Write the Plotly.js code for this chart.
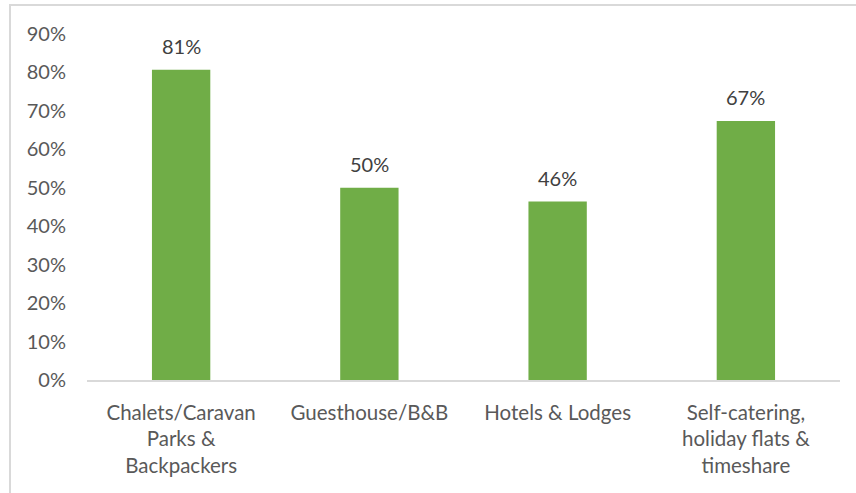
<!DOCTYPE html>
<html>
<head>
<meta charset="utf-8">
<script src="https://cdn.plot.ly/plotly-3.0.1.min.js"></script>
<style>
  html, body { margin: 0; padding: 0; background: #fff; }
  #wrap { position: relative; width: 856px; height: 493px; overflow: hidden; }
  #frame { position: absolute; left: 9px; top: 4px; width: 900px; height: 600px; border: 2px solid #d9d9d9; box-sizing: border-box; }
  #chart { position: absolute; left: 0; top: 0; width: 856px; height: 493px; }
</style>
</head>
<body>
<div id="wrap">
  <div id="frame"></div>
  <div id="chart"></div>
</div>
<script>
const categories = [
  "Chalets/Caravan<br>Parks &<br>Backpackers",
  "Guesthouse/B&B",
  "Hotels & Lodges",
  "Self-catering,<br>holiday flats &<br>timeshare"
];
const shares = [0.807, 0.500, 0.464, 0.674];
const tickValues = [0, 0.1, 0.2, 0.3, 0.4, 0.5, 0.6, 0.7, 0.8, 0.9];
const tickLabels = ["0%", "10%", "20%", "30%", "40%", "50%", "60%", "70%", "80%", "90%"];
const valueLabels = ["81%", "50%", "46%", "67%"];

const font = "Lato, 'Open Sans', sans-serif";

const trace = {
  type: "bar",
  x: categories,
  y: shares,
  marker: { color: "#70ad47" },
  hoverinfo: "skip"
};

const annotations = categories.map((c, i) => ({
  x: c, y: shares[i], xref: "x", yref: "y",
  text: valueLabels[i], showarrow: false,
  yanchor: "bottom", yshift: 10,
  font: { family: font, size: 20, color: "#404040" }
}));

const layout = {
  width: 856, height: 493,
  margin: { l: 87, r: 16, t: 34, b: 113 },
  paper_bgcolor: "rgba(0,0,0,0)",
  plot_bgcolor: "rgba(0,0,0,0)",
  bargap: 0.69,
  showlegend: false,
  xaxis: {
    type: "category",
    showline: true, linecolor: "#d9d9d9", linewidth: 2,
    showgrid: false, zeroline: false,
    ticks: "", ticklabelstandoff: 13,
    tickfont: { family: font, size: 20.5, color: "#595959" },
    fixedrange: true
  },
  yaxis: {
    range: [0, 0.9],
    tickvals: tickValues, ticktext: tickLabels,
    showline: false, showgrid: false, zeroline: false,
    ticks: "", ticklabelstandoff: 20,
    tickfont: { family: font, size: 20, color: "#595959" },
    fixedrange: true
  },
  annotations: annotations
};

Plotly.newPlot("chart", [trace], layout, { displayModeBar: false, staticPlot: true });
</script>
</body>
</html>
